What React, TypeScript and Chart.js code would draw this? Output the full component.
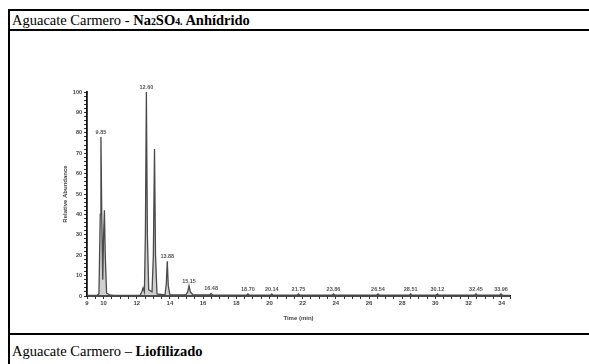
import React, { useEffect, useRef } from "react";
import { Chart, registerables } from "chart.js";

Chart.register(...registerables);

// Chromatogram trace (retention time in min, relative abundance in %)
const retentionTimes = [
  9.0, 9.6, 9.72, 9.8, 9.84, 9.89, 9.95, 10.0, 10.05, 10.1, 10.18, 10.35, 10.6,
  12.2, 12.3, 12.38, 12.46, 12.52, 12.58, 12.64, 12.72, 12.92, 13.0, 13.07, 13.13, 13.22,
  13.7, 13.78, 13.84, 13.9, 14.0, 14.95, 15.07, 15.15, 15.23, 15.4,
  16.4, 16.48, 16.56, 18.62, 18.7, 18.78, 20.06, 20.14, 20.22, 21.67, 21.75, 21.83,
  23.78, 23.86, 23.94, 26.46, 26.54, 26.62, 28.43, 28.51, 28.59, 30.04, 30.12, 30.2,
  32.37, 32.45, 32.53, 33.88, 33.96, 34.04, 34.5,
];
const relativeAbundance = [
  0.3, 0.3, 1, 40, 78, 40, 8, 30, 42, 20, 1.5, 0.5, 0.3,
  0.3, 2, 4, 2, 30, 100, 30, 3, 2, 20, 72, 20, 1,
  0.5, 6, 17, 5, 0.5, 0.5, 2, 5, 2, 0.5,
  0.5, 1.2, 0.5, 0.4, 1, 0.4, 0.4, 1, 0.4, 0.4, 1, 0.4,
  0.4, 1, 0.4, 0.4, 1, 0.4, 0.4, 1, 0.4, 0.4, 1, 0.4,
  0.4, 1, 0.4, 0.4, 1, 0.4, 0.3,
];

// Peak annotations
const peakLabels = ["9.85", "12.60", "13.88", "15.15", "16.48", "18.70", "20.14", "21.75", "23.86", "26.54", "28.51", "30.12", "32.45", "33.96"];
const peakLabelTimes = [9.84, 12.58, 13.84, 15.15, 16.48, 18.7, 20.14, 21.75, 23.86, 26.54, 28.51, 30.12, 32.45, 33.96];
const peakLabelHeights = [78, 100, 17, 5, 1.2, 1, 1, 1, 1, 1, 1, 1, 1, 1];

// Axis ticks
const xMin = 9;
const xMax = 34.5;
const xLabeledTicks = [9, 10, 12, 14, 16, 18, 20, 22, 24, 26, 28, 30, 32, 34];
const yMin = 0;
const yMax = 100;

const peakLabelPlugin = {
  id: "peakLabels",
  afterDatasetsDraw(chart: any) {
    const { ctx, scales } = chart;
    ctx.save();
    ctx.font = "bold 5.5px 'Liberation Sans', Arial, sans-serif";
    ctx.fillStyle = "#555";
    ctx.textAlign = "center";
    ctx.textBaseline = "bottom";
    peakLabels.forEach((t, i) => {
      const x = scales.x.getPixelForValue(peakLabelTimes[i]);
      const y = scales.y.getPixelForValue(peakLabelHeights[i]) - 2;
      ctx.fillText(t, x, y);
    });
    ctx.restore();
  },
};

function ChromChart() {
  const ref = useRef<HTMLCanvasElement | null>(null);
  useEffect(() => {
    if (!ref.current) return;
    const points = retentionTimes.map((t, i) => ({ x: t, y: relativeAbundance[i] }));
    const chart = new Chart(ref.current, {
      type: "scatter",
      data: {
        datasets: [
          {
            data: points,
            showLine: true,
            borderColor: "#4a4a4a",
            borderWidth: 1.3,
            backgroundColor: "rgba(150,150,150,0.45)",
            pointRadius: 0,
            tension: 0,
            fill: "origin",
          },
        ],
      },
      options: {
        responsive: false,
        animation: false,
        layout: { padding: { top: 12, right: 20, left: 0, bottom: 0 } },
        plugins: { legend: { display: false }, tooltip: { enabled: false } },
        scales: {
          x: {
            type: "linear",
            min: xMin,
            max: xMax,
            afterBuildTicks: (scale: any) => {
              const ticks = [];
              for (let v = xMin; v <= xMax + 1e-9; v += 0.5) ticks.push({ value: v });
              scale.ticks = ticks;
            },
            afterFit: (scale: any) => {
              scale.height = 34;
            },
            ticks: {
              autoSkip: false,
              maxRotation: 0,
              padding: 1,
              color: "#444",
              font: { size: 6, weight: "bold", family: "'Liberation Sans', Arial, sans-serif" },
              callback: (v: any) => (xLabeledTicks.includes(Number(v)) ? String(v) : ""),
            },
            grid: { drawOnChartArea: false, tickLength: 3, color: "#333" },
            border: { color: "#111", width: 1.8 },
            title: {
              display: true,
              text: "Time (min)",
              color: "#444",
              font: { size: 6, weight: "bold", family: "'Liberation Sans', Arial, sans-serif" },
              padding: { top: 0, bottom: 8 },
            },
          },
          y: {
            min: yMin,
            max: yMax,
            afterBuildTicks: (scale: any) => {
              const ticks = [];
              for (let v = yMin; v <= yMax; v += 2) ticks.push({ value: v });
              scale.ticks = ticks;
            },
            afterFit: (scale: any) => {
              scale.width = 57;
            },
            ticks: {
              autoSkip: false,
              padding: 2,
              color: "#444",
              font: { size: 5.5, weight: "bold", family: "'Liberation Sans', Arial, sans-serif" },
              callback: (v: any) => (Number(v) % 10 === 0 ? String(v) : ""),
            },
            grid: { drawOnChartArea: false, tickLength: 3, color: "#333" },
            border: { color: "#111", width: 1.8 },
            title: {
              display: true,
              text: "Relative Abundance",
              color: "#444",
              font: { size: 6, weight: "bold", family: "'Liberation Sans', Arial, sans-serif" },
              padding: { top: 32, bottom: 0 },
            },
          },
        },
      },
      plugins: [peakLabelPlugin],
    });
    return () => chart.destroy();
  }, []);
  return (
    <canvas
      ref={ref}
      width={500}
      height={250}
      style={{ position: "absolute", left: 30, top: 80, width: 500, height: 250 }}
    />
  );
}

export default function App() {
  const serif = "'Liberation Serif', 'Times New Roman', serif";
  const line = (style: React.CSSProperties) => (
    <div style={{ position: "absolute", background: "#000", ...style }} />
  );
  return (
    <div
      style={{
        position: "fixed",
        left: 0,
        top: 0,
        width: 589,
        height: 364,
        overflow: "hidden",
        background: "#fff",
        fontFamily: serif,
        color: "#000",
      }}
    >
      {line({ left: 8, top: 9, width: 600, height: 2 })}
      {line({ left: 8, top: 29, width: 600, height: 2 })}
      {line({ left: 8, top: 333, width: 600, height: 2 })}
      {line({ left: 8, top: 9, width: 2, height: 400 })}
      <div style={{ position: "absolute", left: 12, top: 11, fontSize: 14.5, lineHeight: "18px", whiteSpace: "nowrap" }}>
        Aguacate Carmero -{" "}
        <b>
          Na<span style={{ fontSize: "0.68em" }}>2</span>SO<span style={{ fontSize: "0.68em" }}>4.</span> Anhídrido
        </b>
      </div>
      <div style={{ position: "absolute", left: 12, top: 342, fontSize: 14.5, lineHeight: "18px", whiteSpace: "nowrap" }}>
        Aguacate Carmero – <b>Liofilizado</b>
      </div>
      <ChromChart />
    </div>
  );
}
